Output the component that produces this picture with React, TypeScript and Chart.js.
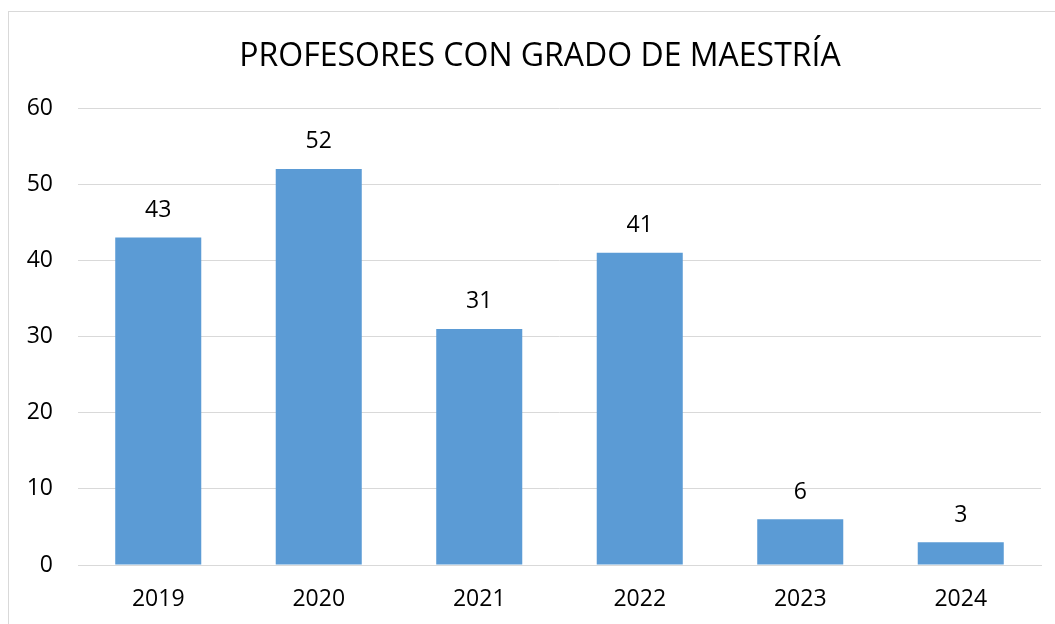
import React, { useEffect, useRef } from "react";
import { Chart, registerables } from "chart.js";

Chart.register(...registerables);

const categories = ["2019", "2020", "2021", "2022", "2023", "2024"];
const values = [43, 52, 31, 41, 6, 3];
const titleText = "PROFESORES CON GRADO DE MAESTRÍA";
const yMin = 0;
const yMax = 60;
const yStep = 10;

const FONT = "'Open Sans', 'Noto Sans', sans-serif";

const labelPlugin = {
  id: "valueLabels",
  afterDatasetsDraw(chart: any) {
    const ctx = chart.ctx;
    const meta = chart.getDatasetMeta(0);
    ctx.save();
    ctx.font = `23px ${FONT}`;
    ctx.fillStyle = "#000000";
    ctx.textAlign = "center";
    ctx.textBaseline = "middle";
    meta.data.forEach((el: any, i: number) => {
      ctx.fillText(String(values[i]), el.x, el.y - 27);
    });
    ctx.restore();
  },
};

const titlePlugin = {
  id: "customTitle",
  afterDraw(chart: any) {
    const ctx = chart.ctx;
    ctx.save();
    ctx.font = `32px ${FONT}`;
    ctx.fillStyle = "#000000";
    ctx.textAlign = "center";
    ctx.textBaseline = "middle";
    ctx.fillText(titleText, 531, 45);
    ctx.restore();
  },
};

export default function App() {
  const ref = useRef<HTMLCanvasElement>(null);
  useEffect(() => {
    if (!ref.current) return;
    const chart = new Chart(ref.current, {
      type: "bar",
      data: {
        labels: categories,
        datasets: [
          {
            data: values,
            backgroundColor: "#5B9BD5",
            borderWidth: 0,
            categoryPercentage: 1,
            barPercentage: 0.536,
          },
        ],
      },
      plugins: [labelPlugin, titlePlugin],
      options: {
        responsive: false,
        animation: false,
        layout: { padding: { top: 96, right: 18, left: 0, bottom: 0 } },
        plugins: {
          legend: { display: false },
          title: { display: false },
          tooltip: { enabled: false },
        },
        scales: {
          x: {
            grid: { display: false, drawTicks: false },
            border: { color: "#d9d9d9", width: 1 },
            ticks: {
              color: "#000000",
              font: { family: FONT, size: 23 },
              padding: 21,
            },
            afterFit(scale: any) {
              scale.height = 59;
            },
          },
          y: {
            min: yMin,
            max: yMax,
            grid: { color: "#d9d9d9", lineWidth: 1, drawTicks: false },
            border: { display: false },
            ticks: {
              stepSize: yStep,
              color: "#000000",
              font: { family: FONT, size: 23 },
              padding: 25,
            },
            afterFit(scale: any) {
              scale.width = 69;
            },
          },
        },
      },
    });
    return () => chart.destroy();
  }, []);

  return (
    <div
      style={{
        position: "fixed",
        left: 0,
        top: 0,
        width: 1055,
        height: 624,
        overflow: "hidden",
        background: "#ffffff",
      }}
    >
      <div
        style={{
          position: "absolute",
          left: 8,
          top: 11,
          width: 1070,
          height: 640,
          border: "1px solid #d9d9d9",
          boxSizing: "border-box",
        }}
      >
        <canvas
          ref={ref}
          width={1050}
          height={612}
          style={{ position: "absolute", left: 0, top: 0, width: 1050, height: 612 }}
        />
      </div>
    </div>
  );
}
